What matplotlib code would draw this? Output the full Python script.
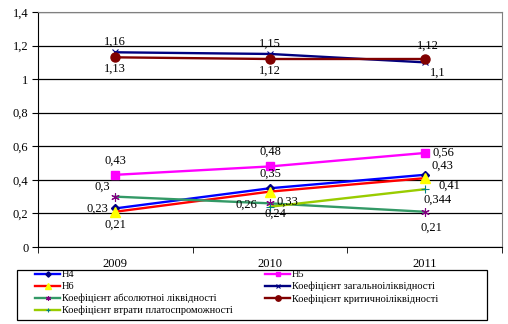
import numpy as np
import matplotlib
matplotlib.use('Agg')
import matplotlib.pyplot as plt
from matplotlib.patches import Rectangle

plt.rcParams['font.family'] = ['Liberation Serif', 'DejaVu Serif']

years = ['2009', '2010', '2011']
h4 = [0.23, 0.35, 0.43]
h5 = [0.43, 0.48, 0.56]
h6 = [0.21, 0.33, 0.41]
k_zag = [1.16, 1.15, 1.1]
k_abs = [0.3, 0.26, 0.21]
k_krit = [1.13, 1.12, 1.12]
k_vtr = [np.nan, 0.24, 0.344]

names = ['Н4', 'Н5', 'Н6',
         'Коефіцієнт загальноіліквідності',
         'Коефіцієнт абсолютноі ліквідності',
         'Коефіцієнт критичноіліквідності',
         'Коефіцієнт втрати платоспроможності']

def fmt(v):
    return ('%g' % v).replace('.', ',')

W, H = 508, 324
fig = plt.figure(figsize=(W / 100, H / 100), dpi=100)
ax = fig.add_axes([38 / W, 1 - 247 / H, (502 - 38) / W, (247 - 12) / H])
x = np.arange(len(years))

series = [
    (h4, names[0], '#0000FF', dict(marker='D', ms=4.5, mfc='#000080', mec='#000080'),
     [(-5, 0, 'right', 'center'), (0, 6, 'center', 'bottom'), (5, 2, 'left', 'bottom')]),
    (h5, names[1], '#FF00FF', dict(marker='s', ms=6, mfc='#FF00FF', mec='#FF00FF'),
     [(0, 6, 'center', 'bottom'), (0, 6, 'center', 'bottom'), (6, 0, 'left', 'center')]),
    (h6, names[2], '#FF0000', dict(marker='^', ms=7, mfc='#FFFF00', mec='#FFFF00'),
     [(0, -5, 'center', 'top'), (5, -3, 'left', 'top'), (10, -1, 'left', 'top')]),
    (k_zag, names[3], '#000080', dict(marker='x', ms=5, mfc='#000080', mec='#000080', mew=0.8),
     [(0, 3, 'center', 'bottom'), (0, 3, 'center', 'bottom'), (4, -3, 'left', 'top')]),
    (k_abs, names[4], '#339966', dict(marker=(6, 2, 0), ms=6, mfc='#800080', mec='#800080', mew=0.8),
     [(-4, 3, 'right', 'bottom'), (-9, -1, 'right', 'center'), (5, -7, 'center', 'top')]),
    (k_krit, names[5], '#800000', dict(marker='o', ms=6.5, mfc='#800000', mec='#800000'),
     [(0, -4, 'center', 'top'), (0, -4, 'center', 'top'), (2, 5, 'center', 'bottom')]),
    (k_vtr, names[6], '#99CC00', dict(marker='+', ms=6, mfc='#008080', mec='#008080', mew=0.8),
     [(0, 0, 'center', 'center'), (4, -1, 'center', 'top'), (-1, -3, 'left', 'top')]),
]

handles = []
for vals, name, col, mk, offs in series:
    ln, = ax.plot(x, vals, color=col, lw=1.7, label=name, zorder=3, **mk)
    handles.append(ln)
    for xi, v, (dx, dy, ha, va) in zip(x, vals, offs):
        if np.isnan(v):
            continue
        ax.annotate(fmt(v), (xi, v), xytext=(dx, dy), textcoords='offset points',
                    ha=ha, va=va, fontsize=9, zorder=5)

ax.set_xlim(-0.5, 2.5)
ax.set_ylim(0, 1.4)
ticks = np.arange(0, 1.41, 0.2)
ax.set_yticks(ticks)
ax.set_yticklabels([fmt(round(t, 1)) for t in ticks], fontsize=9)
ax.set_xticks(x)
ax.set_xticklabels(years, fontsize=9)
ax.set_xticks([-0.5, 0.5, 1.5, 2.5], minor=True)
ax.tick_params(axis='x', which='major', length=0, pad=8)
ax.tick_params(axis='x', which='minor', length=4, direction='out', color='black')
ax.tick_params(axis='y', length=4, direction='out', pad=3)
ax.grid(axis='y', color='black', lw=0.9)
ax.set_axisbelow(True)
for s in ['top', 'right']:
    ax.spines[s].set_color('#808080')
for s in ['left', 'bottom']:
    ax.spines[s].set_color('black')

# legend box
fig.patches.append(Rectangle((17 / W, 1 - 320 / H), (487 - 17) / W, (320 - 270) / H,
                             transform=fig.transFigure, fill=False,
                             edgecolor='black', lw=0.9))
leg_kw = dict(loc='upper left', fontsize=7.5, frameon=False, handlelength=2.4,
              handletextpad=0.15, labelspacing=0.25, borderpad=0, borderaxespad=0,
              markerscale=0.6)
col1 = [0, 2, 4, 6]
col2 = [1, 3, 5]
leg1 = fig.legend([handles[i] for i in col1], [names[i] for i in col1],
                  bbox_to_anchor=(35 / W, 1 - 270 / H), **leg_kw)
fig.legend([handles[i] for i in col2], [names[i] for i in col2],
           bbox_to_anchor=(265 / W, 1 - 270 / H), **leg_kw)

fig.savefig('out.png', dpi=100)
